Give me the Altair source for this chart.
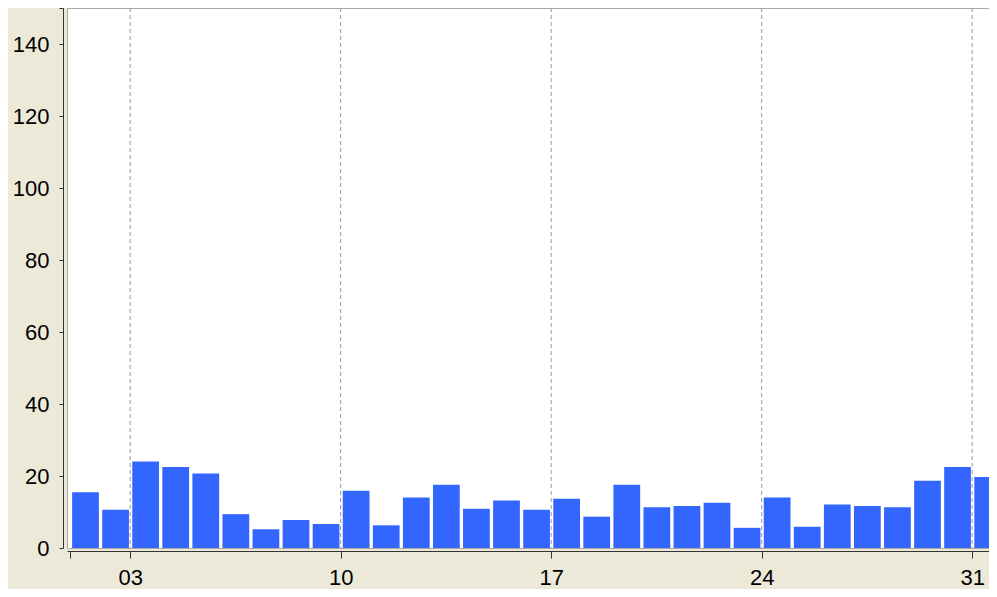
import altair as alt
import pandas as pd

# Daily values (day of month -> value)
days = list(range(1, 32))
values = [15.5, 10.6, 24.0, 22.5, 20.7, 9.4, 5.2, 7.8, 6.7, 15.9,
          6.3, 14.0, 17.6, 10.9, 13.2, 10.6, 13.7, 8.7, 17.6, 11.3,
          11.7, 12.6, 5.6, 14.0, 5.9, 12.1, 11.7, 11.3, 18.7, 22.5, 19.7]

tick_days = [1, 3, 10, 17, 24, 31]
grid_days = [3, 10, 17, 24, 31]
y_ticks = [0, 20, 40, 60, 80, 100, 120, 140, 150]

df = pd.DataFrame({"day": days, "value": values})
grid_df = pd.DataFrame({"day": grid_days})

FONT = "Liberation Sans"
x_scale = alt.Scale(domain=[0.9, 31.56], nice=False, zero=False)
y_scale = alt.Scale(domain=[0, 150], nice=False)

bars = alt.Chart(df).transform_calculate(
    x0="datum.day + 0.07", x1="datum.day + 0.96"
).mark_rect(color="#3366FF", clip=True).encode(
    x=alt.X("x0:Q", scale=x_scale,
            axis=alt.Axis(values=tick_days, title=None, grid=False, offset=3,
                          tickSize=7, tickColor="#333333", domainColor="#333333",
                          labelExpr="datum.value == 1 ? '' : (datum.value < 10 ? '0' + datum.value : '' + datum.value)",
                          labelFont=FONT, labelFontSize=22, labelColor="#000000",
                          labelPadding=9, labelFlush=False)),
    x2="x1:Q",
    y=alt.Y("value:Q", scale=y_scale,
            axis=alt.Axis(values=y_ticks, title=None, grid=False, offset=4,
                          tickSize=4, tickColor="#333333", domainColor="#333333",
                          labelExpr="datum.value == 150 ? '' : datum.label",
                          labelFont=FONT, labelFontSize=22, labelColor="#000000",
                          labelPadding=10, labelFlush=False)),
    y2=alt.datum(0),
)

grid = alt.Chart(grid_df).mark_rule(color="#999999", strokeDash=[4, 3], strokeWidth=1).encode(
    x=alt.X("day:Q", scale=x_scale),
)

chart = alt.layer(grid, bars).properties(
    width=922, height=540,
    autosize=alt.AutoSizeParams(type="none"),
    padding={"left": 59, "top": 0, "right": 0, "bottom": 41},
    background="#ECE9D8",
).configure_view(fill="white", stroke="#A8A8A8", strokeWidth=1)

chart.save("out.html", embed_options={"renderer": "svg", "actions": False})
